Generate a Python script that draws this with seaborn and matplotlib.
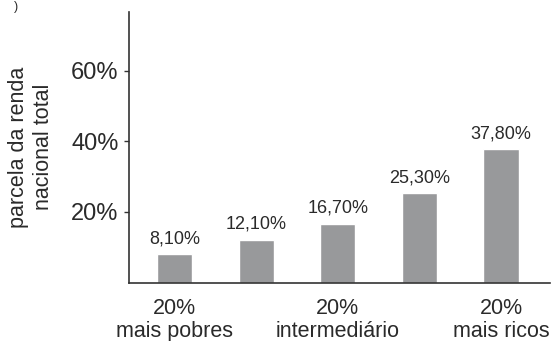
import matplotlib
matplotlib.use("Agg")
import matplotlib.pyplot as plt
import seaborn as sns
import pandas as pd

categories = ["1º quintil", "2º quintil", "3º quintil", "4º quintil", "5º quintil"]
values = [8.1, 12.1, 16.7, 25.3, 37.8]
tick_positions = [0, 2, 4]
tick_labels = ["20%\nmais pobres", "20%\nintermediário", "20%\nmais ricos"]
y_ticks = [20, 40, 60]
y_label = "parcela da renda\nnacional total"

sns.set_style("white")
plt.rcParams["font.family"] = ["Liberation Sans", "DejaVu Sans"]

text_color = "#2a2a2a"
bar_color = "#98999b"

fig = plt.figure(figsize=(5.52, 3.41), dpi=100)
ax = fig.add_axes([0.2337, 0.1713, 0.7627, 0.7935])

df = pd.DataFrame({"cat": categories, "val": values})
sns.barplot(data=df, x="cat", y="val", color=bar_color, saturation=1,
            width=0.43, ax=ax)

labels = [f"{v:.2f}".replace(".", ",") + "%" for v in values]
ax.bar_label(ax.containers[0], labels=labels, padding=5, fontsize=13,
             color=text_color)

ax.set_xlim(-0.557, 4.6)
ax.set_ylim(0, 76.66)
ax.set_yticks(y_ticks)
ax.set_yticklabels([f"{t}%" for t in y_ticks], fontsize=17, color=text_color)
ax.set_xticks(tick_positions)
ax.set_xticklabels(tick_labels, fontsize=15.5, color=text_color, linespacing=1.15)
ax.tick_params(axis="x", length=0, pad=11)
ax.tick_params(axis="y", length=3.5, width=1, color="#333333", pad=4,
               direction="out", left=True)
ax.set_xlabel("")
ax.set_ylabel(y_label, fontsize=15.5, color=text_color, linespacing=1.28,
              labelpad=12)

for side in ["top", "right"]:
    ax.spines[side].set_visible(False)
for side in ["left", "bottom"]:
    ax.spines[side].set_color("#333333")
    ax.spines[side].set_linewidth(1.2)

fig.text(0.025, 0.998, ")", fontsize=9, color=text_color, ha="left", va="top")

fig.savefig("out.png", dpi=100)
